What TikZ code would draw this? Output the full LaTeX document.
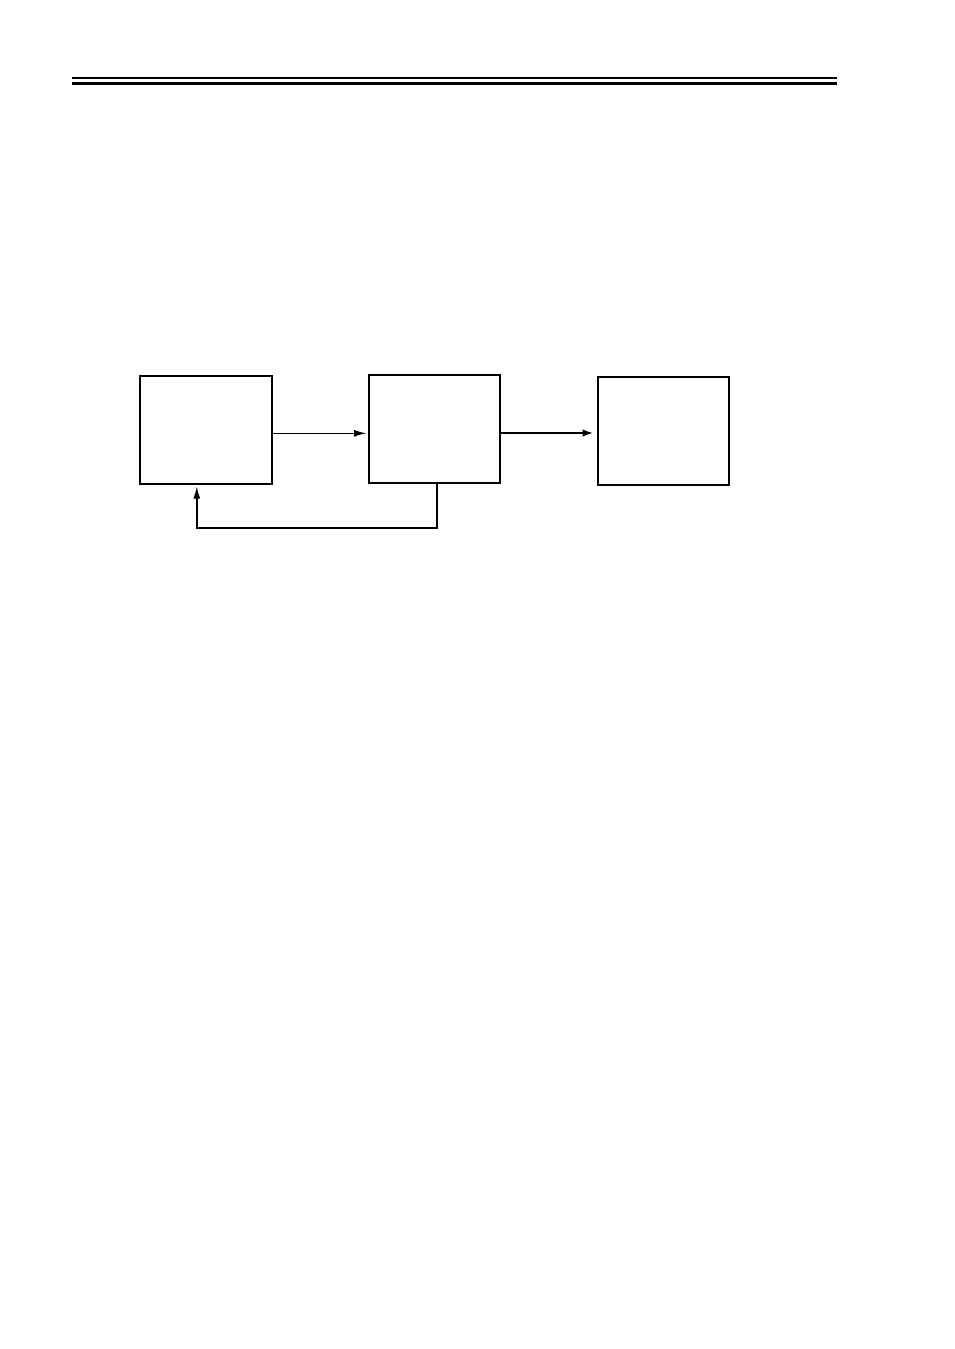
\documentclass[tikz,border=0pt]{standalone}
\usetikzlibrary{arrows.meta,calc}
\begin{document}
\begin{tikzpicture}[x=1pt,y=-1pt,
  blockbox/.style={draw=black,line width=2pt,rectangle,inner sep=0pt,minimum width=131pt,minimum height=107.5pt},
  thinarr/.style={line width=1pt,-{Latex[length=12pt,width=7pt]}},
  thickarr/.style={line width=2pt,-{Latex[length=11pt,width=7.5pt]}},
  fbline/.style={line width=1.4pt,-{Latex[length=12pt,width=7pt]}},
  rule/.style={line width=2.6pt,black}]
\useasboundingbox[fill=white] (0,0) rectangle (954,1349);
% header rules
\draw[rule] (72,78) -- (836.7,78);
\draw[rule] (72,83.5) -- (836.7,83.5);
% blocks
\node[blockbox,minimum width=132pt] (b1) at (206,429.8) {};
\node[blockbox,minimum width=131.5pt] (b2) at (434.3,428.8) {};
\node[blockbox,minimum width=131.3pt,minimum height=107.2pt] (b3) at (663.6,430.9) {};
% connector end points
\coordinate (a1) at (366,433.3);
\coordinate (a2) at (593.5,433);
\coordinate (fbr) at (437,527.8);
\coordinate (fbl) at (196.8,527.8);
\coordinate (fbt) at (196.8,486.5);
% connectors
\draw[thinarr] (b1.east |- a1) -- (a1);
\draw[thickarr] (b2.east |- a2) -- (a2);
\draw[line width=1.8pt] (b2.south -| fbr) -- (fbr);
\draw[fbline] ([xshift=0.9pt]fbr) -- (fbl) -- (fbt);
\end{tikzpicture}
\end{document}
